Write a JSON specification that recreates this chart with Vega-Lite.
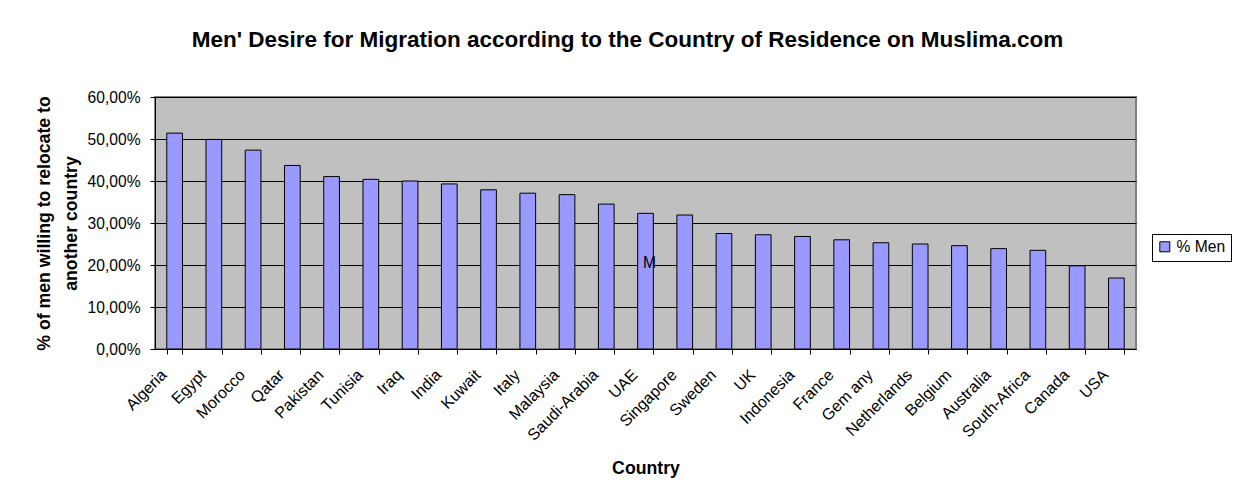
{
  "$schema": "https://vega.github.io/schema/vega-lite/v6.json",
  "width": 981,
  "height": 252,
  "autosize": "none",
  "padding": {"left": 155, "top": 97, "right": 97, "bottom": 146},
  "background": "white",
  "title": {
    "text": "Men' Desire for Migration according to the Country of Residence on Muslima.com",
    "font": "Liberation Sans",
    "fontSize": 22.5,
    "fontWeight": "bold",
    "color": "black",
    "anchor": "middle",
    "baseline": "alphabetic",
    "offset": 21,
    "dx": -18
  },
  "data": {
    "values": [
      {"country": "Algeria", "value": 0.514, "series": "% Men"},
      {"country": "Egypt", "value": 0.499, "series": "% Men"},
      {"country": "Morocco", "value": 0.4735, "series": "% Men"},
      {"country": "Qatar", "value": 0.437, "series": "% Men"},
      {"country": "Pakistan", "value": 0.4105, "series": "% Men"},
      {"country": "Tunisia", "value": 0.404, "series": "% Men"},
      {"country": "Iraq", "value": 0.40, "series": "% Men"},
      {"country": "India", "value": 0.393, "series": "% Men"},
      {"country": "Kuwait", "value": 0.379, "series": "% Men"},
      {"country": "Italy", "value": 0.371, "series": "% Men"},
      {"country": "Malaysia", "value": 0.3675, "series": "% Men"},
      {"country": "Saudi-Arabia", "value": 0.345, "series": "% Men"},
      {"country": "UAE", "value": 0.323, "series": "% Men"},
      {"country": "Singapore", "value": 0.319, "series": "% Men"},
      {"country": "Sweden", "value": 0.275, "series": "% Men"},
      {"country": "UK", "value": 0.272, "series": "% Men"},
      {"country": "Indonesia", "value": 0.268, "series": "% Men"},
      {"country": "France", "value": 0.26, "series": "% Men"},
      {"country": "Gem any", "value": 0.253, "series": "% Men"},
      {"country": "Netherlands", "value": 0.25, "series": "% Men"},
      {"country": "Belgium", "value": 0.246, "series": "% Men"},
      {"country": "Australia", "value": 0.239, "series": "% Men"},
      {"country": "South-Africa", "value": 0.235, "series": "% Men"},
      {"country": "Canada", "value": 0.198, "series": "% Men"},
      {"country": "USA", "value": 0.169, "series": "% Men"}
    ]
  },
  "layer": [
    {
      "mark": {"type": "bar", "stroke": "black", "strokeWidth": 1},
      "encoding": {
        "x": {
          "field": "country",
          "type": "nominal",
          "sort": null,
          "scale": {"paddingInner": 0.6, "paddingOuter": 0.3},
          "axis": {
            "title": "Country",
            "titleFont": "Liberation Sans",
            "titleFontSize": 17.7,
            "titleFontWeight": "bold",
            "titleColor": "black",
            "titleY": 124,
            "titleBaseline": "alphabetic",
            "labelAngle": -45,
            "labelAlign": "right",
            "labelBaseline": "middle",
            "labelFont": "Liberation Sans",
            "labelFontSize": 16,
            "labelColor": "black",
            "labelPadding": 18,
            "labelOffset": -11,
            "tickBand": "extent",
            "tickColor": "black",
            "tickSize": 5,
            "domainColor": "black",
            "grid": false
          }
        },
        "y": {
          "field": "value",
          "type": "quantitative",
          "scale": {"domain": [0, 0.6], "nice": false},
          "axis": {
            "title": ["% of men willing to relocate to", "another country"],
            "titleFont": "Liberation Sans",
            "titleFontSize": 17.7,
            "titleFontWeight": "bold",
            "titleColor": "black",
            "titleLineHeight": 27,
            "titlePadding": 7,
            "values": [0, 0.1, 0.2, 0.3, 0.4, 0.5, 0.6],
            "labelExpr": "replace(format(datum.value, '.2%'), '.', ',')",
            "labelFont": "Liberation Sans",
            "labelFontSize": 15.6,
            "labelColor": "black",
            "labelPadding": 10,
            "tickColor": "black",
            "tickSize": 5,
            "domainColor": "black",
            "grid": true,
            "gridColor": "black",
            "gridOpacity": 1
          }
        },
        "color": {
          "field": "series",
          "type": "nominal",
          "scale": {"domain": ["% Men"], "range": ["#9999FF"]},
          "legend": {
            "title": null,
            "orient": "none",
            "legendX": 997,
            "legendY": 137,
            "strokeColor": "black",
            "fillColor": "white",
            "padding": 5,
            "symbolType": "square",
            "symbolSize": 100,
            "symbolStrokeColor": "black",
            "symbolStrokeWidth": 1,
            "symbolOpacity": 1,
            "labelFont": "Liberation Sans",
            "labelFontSize": 15.6,
            "labelColor": "black"
          }
        }
      }
    },
    {
      "transform": [{"filter": "datum.country == 'UAE'"}],
      "mark": {"type": "text", "font": "Liberation Sans", "fontSize": 15.6, "color": "black", "baseline": "middle", "dx": 4, "dy": -2},
      "encoding": {
        "x": {"field": "country", "type": "nominal", "sort": null},
        "y": {"datum": 0.2},
        "text": {"value": "M"}
      }
    }
  ],
  "config": {
    "view": {"fill": "#C0C0C0", "stroke": "#808080", "strokeWidth": 2}
  }
}
